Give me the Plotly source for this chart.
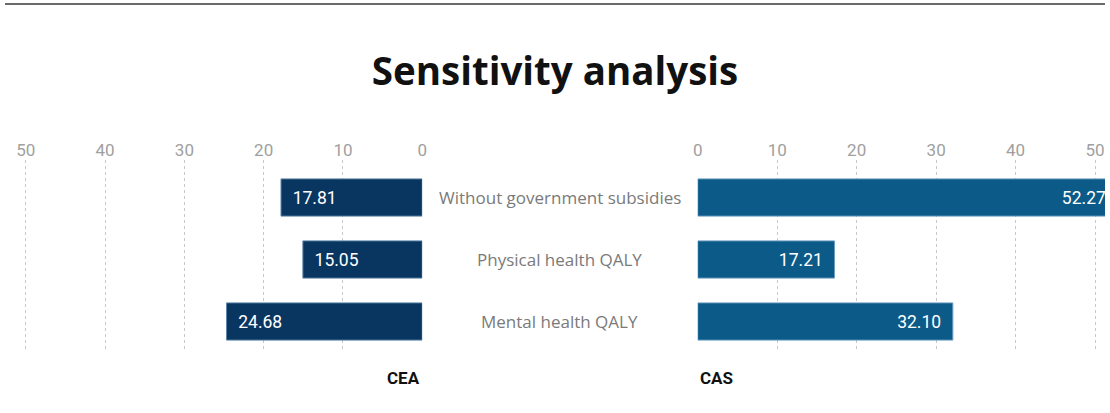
import plotly.graph_objects as go

categories = ["Without government subsidies", "Physical health QALY", "Mental health QALY"]
cea_values = [17.81, 15.05, 24.68]
cas_values = [52.27, 17.21, 32.10]
tick_values = [0, 10, 20, 30, 40, 50]
left_title = "CEA"
right_title = "CAS"
chart_title = "Sensitivity analysis"

W, H = 1110, 413
PLOT_TOP, PLOT_BOTTOM = 160, 352
ROW_PX = 62.0
FIRST_ROW_PX = 197.5
ROW_POS = list(range(len(categories)))

y_top = -(FIRST_ROW_PX - PLOT_TOP) / ROW_PX
y_bot = y_top + (PLOT_BOTTOM - PLOT_TOP) / ROW_PX

LEFT_ZERO = 421
RIGHT_ZERO = 699
PX_PER_UNIT_L = 8.0
PX_PER_UNIT_R = 8.02
NB = "\u00a0"
right_max = (W - RIGHT_ZERO) / PX_PER_UNIT_R

fig = go.Figure()

fig.add_trace(go.Bar(
    y=ROW_POS, x=cea_values, orientation="h", xaxis="x", yaxis="y",
    width=0.6,
    marker=dict(color="#093660", line=dict(color="#5b84a8", width=1)),
    text=[NB * 2 + f"{v:.2f}" for v in cea_values],
    textposition="inside", insidetextanchor="end",
    textfont=dict(color="white", size=17.5, family="Roboto"),
    hoverinfo="skip", showlegend=False, cliponaxis=True,
))
fig.add_trace(go.Bar(
    y=ROW_POS, x=cas_values, orientation="h", xaxis="x2", yaxis="y",
    width=0.6,
    marker=dict(color="#0b5a88", line=dict(color="#6b9cc0", width=1)),
    text=[f"{v:.2f}" + (NB if v > right_max else NB * 2) for v in cas_values],
    textposition="inside", insidetextanchor="end",
    textfont=dict(color="white", size=17.5, family="Roboto"),
    hoverinfo="skip", showlegend=False, cliponaxis=True,
))

axis_common = dict(
    side="top", tickvals=tick_values, ticktext=[str(t) for t in tick_values],
    showgrid=True, gridcolor="#c8c8c8", griddash="3px,3px", gridwidth=1,
    zeroline=False, showline=False, ticks="",
    tickfont=dict(size=17, color="#a0a0a0", family="Roboto"),
    fixedrange=True,
)

fig.update_layout(
    width=W, height=H,
    margin=dict(l=0, r=0, t=PLOT_TOP, b=H - PLOT_BOTTOM, pad=0),
    paper_bgcolor="white", plot_bgcolor="white",
    bargap=0.4,
    xaxis=dict(domain=[0, LEFT_ZERO / W], range=[LEFT_ZERO / PX_PER_UNIT_L, 0], anchor="y", **axis_common),
    xaxis2=dict(domain=[RIGHT_ZERO / W, 1], range=[0, right_max], anchor="y", **axis_common),
    yaxis=dict(range=[y_bot, y_top], showticklabels=False, showgrid=False, zeroline=False,
               showline=False, ticks="", fixedrange=True),
    title=dict(text=f"<b>{chart_title}</b>", x=0.5, xanchor="center",
               y=1 - 72 / H, yanchor="middle",
               font=dict(size=38.5, color="#111111", family="Open Sans")),
)

for i, cat in enumerate(categories):
    fig.add_annotation(x=(LEFT_ZERO + RIGHT_ZERO) / 2 / W, xref="paper", y=ROW_POS[i], yref="y",
                       text=cat, showarrow=False, xanchor="center", yanchor="middle",
                       font=dict(size=17, color="#7a7a7a", family="Open Sans"))

label_y = (PLOT_BOTTOM - 378) / (PLOT_BOTTOM - PLOT_TOP)
label_font = dict(size=17, color="#111111", family="Roboto")
fig.add_annotation(x=LEFT_ZERO / W, xref="paper", y=label_y, yref="paper", text=f"<b>{left_title}</b>",
                   showarrow=False, xanchor="right", yanchor="middle", font=label_font)
fig.add_annotation(x=RIGHT_ZERO / W, xref="paper", y=label_y, yref="paper", text=f"<b>{right_title}</b>",
                   showarrow=False, xanchor="left", yanchor="middle", font=label_font)

line_y = (PLOT_BOTTOM - 4) / (PLOT_BOTTOM - PLOT_TOP)
fig.add_shape(type="line", xref="paper", yref="paper", x0=0, x1=1, y0=line_y, y1=line_y,
              line=dict(color="#6a6a6a", width=2))

fig.write_html("out.html")
